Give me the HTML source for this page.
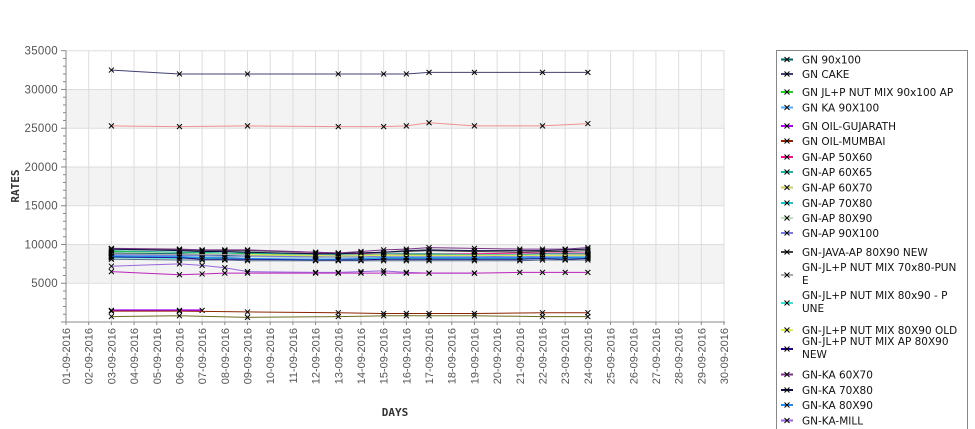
<!DOCTYPE html>
<html><head><meta charset="utf-8">
<style>
body{margin:0;background:#fff;width:975px;height:429px;overflow:hidden;font-family:"Liberation Sans","DejaVu Sans",sans-serif}
svg{display:block}
</style></head>
<body>
<svg id="chart" width="975" height="429" xmlns="http://www.w3.org/2000/svg"></svg>
<script>
const days = [3,6,7,8,9,12,13,14,15,16,17,19,21,22,23,24];
const yTicks = [5000,10000,15000,20000,25000,30000,35000];
const legendLabels = ["GN 90x100","GN CAKE","GN JL+P NUT MIX 90x100 AP","GN KA 90X100","GN OIL-GUJARATH","GN OIL-MUMBAI","GN-AP 50X60","GN-AP 60X65","GN-AP 60X70","GN-AP 70X80","GN-AP 80X90","GN-AP 90X100","GN-JAVA-AP 80X90 NEW","GN-JL+P NUT MIX 70x80-PUN|E","GN-JL+P NUT MIX 80x90 - P|UNE","GN-JL+P NUT MIX 80X90 OLD","GN-JL+P NUT MIX AP 80X90|NEW","GN-KA 60X70","GN-KA 70X80","GN-KA 80X90","GN-KA-MILL","GN-KA/CHN/MUM 80X90"];
const colors = ["#006060","#404070","#22cc22","#55aaff","#aa00ee","#8b2500","#ee1188","#20b0a0","#cccc66","#20c0c0","#c0e0c0","#7777dd","#404040","#aaaaaa","#40e0d0","#ddee55","#220088","#773388","#111144","#2288ee","#9966dd","#f09090","#6b6b20","#bb22bb","#556b8b"];
const N=null;
const s0  = [8900,8800,8700,8600,8500,8400,8300,8300,8300,8300,8300,8300,8300,8300,8300,8300];
const s1  = [32500,32000,N,N,32000,N,32000,N,32000,32000,32200,32200,N,32200,N,32200];
const s2  = [9100,9000,8900,8900,8800,8700,8600,8600,8600,8700,8700,8600,8600,8600,8600,8700];
const s3  = [8600,8500,8500,8400,8400,8300,8300,8300,8300,8300,8400,8400,8300,8400,8400,8500];
const s4  = [1500,1500,1500,N,N,N,N,N,N,N,N,N,N,N,N,N];
const s5  = [1400,1400,N,N,1300,N,1200,N,1100,1100,1100,1100,N,1200,N,1200];
const s6  = [N,N,N,N,8900,N,N,N,8800,N,N,8800,8900,N,N,8900];
const s7  = [9200,9000,9000,8900,8900,8700,8700,8700,8800,8800,8800,8700,8700,8800,8800,8800];
const s8  = [N,N,N,N,8600,8500,8600,N,8700,8600,8600,8600,8600,8600,N,8700];
const s9  = [8300,8300,8200,8200,8100,8100,8100,8100,8200,8200,8200,8200,8200,8300,8300,8300];
const s10 = [8500,8400,N,N,8400,N,8300,N,8400,N,N,8400,N,8400,N,8500];
const s11 = [8700,8600,8600,8500,8500,8400,8400,8400,8500,8500,8500,8500,8400,8500,8500,8600];
const s12 = [9400,9300,9200,9200,9200,9000,8900,8900,9000,9100,9200,9100,9000,9100,9100,9200];
const s13 = [8800,8700,N,N,8700,N,8600,N,8600,N,N,8600,N,8600,N,8700];
const s14 = [8300,8200,8200,8100,8100,8000,8100,8100,8100,8100,8100,8100,8100,8200,8200,8200];
const s15 = [N,N,N,N,8700,8600,8500,N,8600,N,8600,N,N,8600,N,8600];
const s16 = [8400,8300,8100,8100,8100,8000,8000,8000,8100,8100,8100,8100,8100,8200,8100,8200];
const s17 = [9500,9400,9300,9300,9300,9000,8900,9100,9300,9400,9600,9500,9400,9400,9400,9600];
const s18 = [9400,9200,9100,9100,9000,8800,8800,8900,9000,9200,9300,9200,9200,9200,9300,9400];
const s19 = [8500,8400,8300,8300,8200,8100,8100,8200,8300,8300,8300,8300,8300,8300,8300,8400];
const s20 = [7200,7500,7300,7000,6500,6400,6400,6500,6600,6400,6300,6300,N,N,N,N];
const s21 = [25300,25200,N,N,25300,N,25200,N,25200,25300,25700,25300,N,25300,N,25600];
const s22 = [700,800,N,N,600,N,700,N,800,800,800,800,N,700,N,700];
const s23 = [6500,6100,6200,6300,6300,6300,6300,6300,6300,6300,6300,6300,6400,6400,6400,6400];
const s24 = [8100,8000,8000,8000,7900,7900,7900,7900,7900,7900,7900,7900,7900,8000,8000,8000];
const series = [s0,s1,s2,s3,s4,s5,s6,s7,s8,s9,s10,s11,s12,s13,s14,s15,s16,s17,s18,s19,s20,s21,s22,s23,s24];

const X0=66, DX=22.69, Y0=322, YT=50.7, YMAX=35000;
function xs(d){return X0+(d-1)*DX;}
function ys(v){return Y0-(v/YMAX)*(Y0-YT);}
const NS="http://www.w3.org/2000/svg";
const svg=document.getElementById('chart');
function mk(tag,attrs,parent){const e=document.createElementNS(NS,tag);for(const k in attrs)e.setAttribute(k,attrs[k]);(parent||svg).appendChild(e);return e;}

const plot=mk('g',{});


for(let b=5000;b<YMAX;b+=10000){
  const r=mk('rect',{x:X0,y:ys(b+5000),width:xs(30)-X0,height:ys(b)-ys(b+5000),fill:'#f3f3f3'},plot);
  
  
}
for(let d=2;d<=30;d++){
  const l=mk('line',{x1:xs(d),x2:xs(d),y1:YT,y2:Y0,stroke:'#dddddd','stroke-width':1},plot);
  
  
}
yTicks.forEach(v=>{
  const l=mk('line',{x1:X0,x2:xs(30),y1:ys(v),y2:ys(v),stroke:'#dddddd','stroke-width':1},plot);
  
  
});
const ax=mk('g',{stroke:'#888','stroke-width':1});


mk('line',{x1:X0,x2:X0,y1:YT,y2:Y0},ax);
mk('line',{x1:X0-5,x2:xs(30)+1,y1:Y0,y2:Y0},ax);
for(let v=0;v<=YMAX;v+=1000){
  const major=v%5000===0;
  mk('line',{x1:X0-(major?5:3),x2:X0,y1:ys(v),y2:ys(v)},ax);
}
yTicks.forEach(v=>{
  const t=mk('text',{x:X0-8,y:ys(v)+4,'text-anchor':'end','font-size':11.5,fill:'#555','letter-spacing':'0.3'});
  t.textContent=v;
  
  
});
for(let d=1;d<=30;d++){
  const lbl=String(d).padStart(2,'0')+'-09-2016';
  const t=mk('text',{transform:`translate(${xs(d)+4},328) rotate(-90)`,'text-anchor':'end','font-size':11,fill:'#555'});
  t.textContent=lbl;
  
  
  mk('line',{x1:xs(d),x2:xs(d),y1:Y0,y2:Y0+3,stroke:'#888'});
}
const yt=mk('text',{transform:'translate(19,186) rotate(-90)','text-anchor':'middle','font-size':11,'font-weight':'bold',fill:'#333','font-family':'"DejaVu Sans Mono",monospace'});
yt.textContent='RATES';


const xt=mk('text',{x:395,y:416,'text-anchor':'middle','font-size':11,'font-weight':'bold',fill:'#333','font-family':'"DejaVu Sans Mono",monospace'});
xt.textContent='DAYS';



series.forEach((vals,i)=>{
  const g=mk('g',{});
  
  
  const pts=[];
  vals.forEach((v,j)=>{if(v!==null)pts.push([xs(days[j]),ys(v)]);});
  const pl=mk('polyline',{points:pts.map(p=>p.join(',')).join(' '),fill:'none',stroke:colors[i],'stroke-width':(i===4?2:1)},g);
  
  
  pts.forEach(p=>{
    const m=mk('path',{d:`M${p[0]-2.5},${p[1]-2.5}L${p[0]+2.5},${p[1]+2.5}M${p[0]-2.5},${p[1]+2.5}L${p[0]+2.5},${p[1]-2.5}`,stroke:'#000','stroke-width':1},g);
    
    
  });
});

const lg=mk('g',{});


mk('rect',{x:776.5,y:50.5,width:191,height:390,fill:'#fff',stroke:'#888'},lg);
const legendY=[59.5,74,92,107.5,126,141,157,172,187.5,203,218,233,252,275,303,330,349,374.5,390,405,420.5,434];
legendLabels.forEach((lab,i)=>{
  const cy=legendY[i];
  const e=mk('g',{},lg);
  
  
  mk('line',{x1:781,x2:793,y1:cy,y2:cy,stroke:colors[i],'stroke-width':2},e);
  mk('path',{d:`M${784.5},${cy-2.5}L${789.5},${cy+2.5}M${784.5},${cy+2.5}L${789.5},${cy-2.5}`,stroke:'#000','stroke-width':1},e);
  const parts=lab.split('|');
  parts.forEach((p,k)=>{
    const off=parts.length===2?(k===0?-4:9):4;
    const t=mk('text',{x:802,y:cy+off,'font-size':10.5,fill:'#111','font-family':'"DejaVu Sans",sans-serif'},e);
    t.textContent=p;
  });
});
</script>
</body></html>
